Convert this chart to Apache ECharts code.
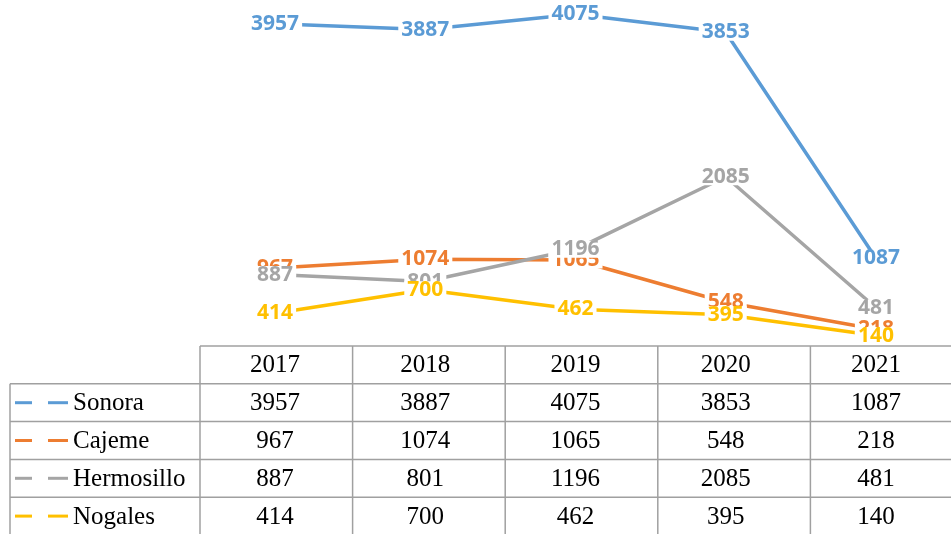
<!DOCTYPE html>
<html>
<head>
<meta charset="utf-8">
<script src="https://cdn.jsdelivr.net/npm/echarts@6/dist/echarts.min.js"></script>
<style>
  html, body { margin: 0; padding: 0; background: #ffffff; }
  #chart { width: 951px; height: 534px; }
</style>
</head>
<body>
<div id="chart"></div>
<script>
const years = ['2017', '2018', '2019', '2020', '2021'];
const sonora = [3957, 3887, 4075, 3853, 1087];
const cajeme = [967, 1074, 1065, 548, 218];
const hermosillo = [887, 801, 1196, 2085, 481];
const nogales = [414, 700, 462, 395, 140];

const seriesList = [
  { name: 'Sonora', data: sonora, color: '#5b9bd5' },
  { name: 'Cajeme', data: cajeme, color: '#ed7d31' },
  { name: 'Hermosillo', data: hermosillo, color: '#a5a5a5' },
  { name: 'Nogales', data: nogales, color: '#ffc000' }
];

const chart = echarts.init(document.getElementById('chart'));

// table geometry
const tableTop = 346;
const rowH = 37.8;
const tableLeft = 10;
const gridLeft = 200;
const gridWidth = 763;
const lineColor = '#a0a0a0';

chart.setOption({
  animation: false,
  backgroundColor: '#ffffff',
  grid: { left: gridLeft, width: gridWidth, top: 4, bottom: 534 - 347 },
  xAxis: {
    type: 'category',
    data: years,
    boundaryGap: true,
    axisLine: { show: false },
    axisTick: { show: false },
    axisLabel: { show: false }
  },
  yAxis: {
    type: 'value',
    min: 0,
    max: 4200,
    show: false,
    splitLine: { show: false }
  },
  series: seriesList.map((s) => ({
    type: 'line',
    name: s.name,
    data: s.data,
    symbol: 'circle',
    symbolSize: 1,
    itemStyle: { color: s.color },
    lineStyle: { color: s.color, width: 3.5 },
    label: {
      show: true,
      position: 'inside',
      color: s.color,
      fontFamily: 'Noto Sans',
      fontWeight: 'bold',
      fontSize: 21,
      lineHeight: 17,
      backgroundColor: '#ffffff',
      padding: [0, 3]
    }
  }))
});

const colX = years.map((y) => chart.convertToPixel({ xAxisIndex: 0 }, y));
const colW = gridWidth / years.length;
const graphics = [];

function hLine(x1, x2, y) {
  graphics.push({ type: 'line', shape: { x1, y1: y, x2, y2: y }, style: { stroke: lineColor, lineWidth: 1.5 } });
}
function vLine(x, y1, y2) {
  graphics.push({ type: 'line', shape: { x1: x, y1, x2: x, y2 }, style: { stroke: lineColor, lineWidth: 1.5 } });
}
function cellText(text, x, y, align) {
  graphics.push({
    type: 'text',
    x, y,
    style: { text, fill: '#000000', font: '25px "Liberation Serif"', align, verticalAlign: 'middle' }
  });
}

const tableBottom = tableTop + rowH * (seriesList.length + 1);
hLine(gridLeft, 951, tableTop);
for (let i = 1; i <= seriesList.length; i++) hLine(tableLeft, 951, tableTop + rowH * i);
vLine(tableLeft, tableTop + rowH, tableBottom);
for (let j = 0; j < years.length; j++) vLine(gridLeft + colW * j, tableTop, tableBottom);

years.forEach((y, j) => cellText(y, colX[j], tableTop + rowH / 2 + 1, 'center'));
seriesList.forEach((s, i) => {
  const cy = tableTop + rowH * (i + 1.5) + 1;
  graphics.push({ type: 'line', shape: { x1: 15, y1: cy - 1, x2: 32, y2: cy - 1 }, style: { stroke: s.color, lineWidth: 3 } });
  graphics.push({ type: 'line', shape: { x1: 48, y1: cy - 1, x2: 68, y2: cy - 1 }, style: { stroke: s.color, lineWidth: 3 } });
  cellText(s.name, 73, cy, 'left');
  s.data.forEach((v, j) => cellText(String(v), colX[j], cy, 'center'));
});

chart.setOption({ graphic: graphics });
</script>
</body>
</html>
